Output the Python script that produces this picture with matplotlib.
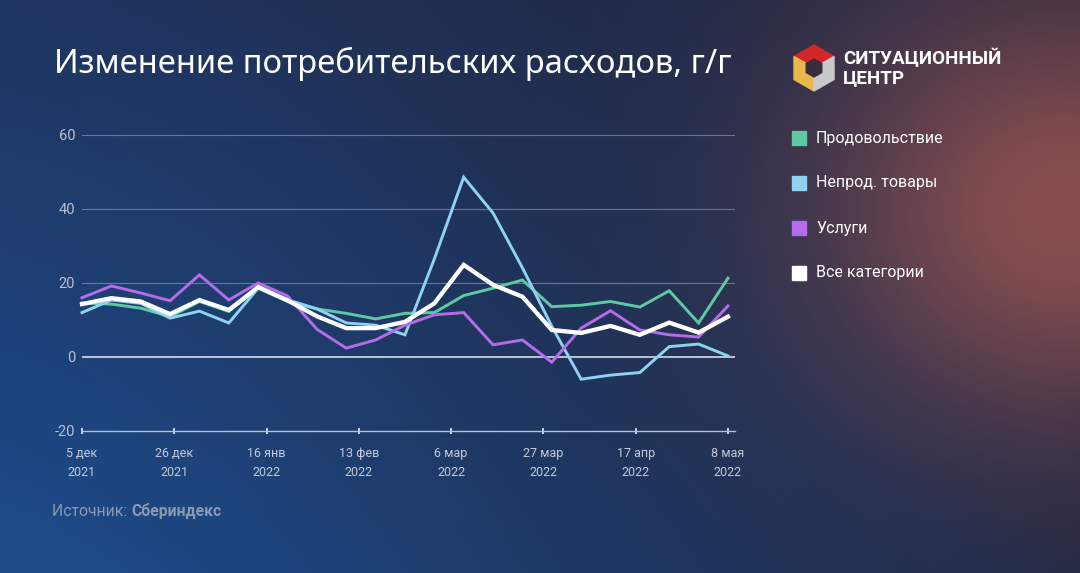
import numpy as np
import matplotlib
matplotlib.use("Agg")
import matplotlib.pyplot as plt
from matplotlib.patches import Polygon, Rectangle

plt.rcParams['font.family'] = ['Roboto', 'DejaVu Sans']

# weekly data, 5 Dec 2021 .. 8 May 2022
tick_labels = ["5 дек\n2021", "26 дек\n2021", "16 янв\n2022", "13 фев\n2022",
               "6 мар\n2022", "27 мар\n2022", "17 апр\n2022", "8 мая\n2022"]
food = [14.6, 14.3, 13.2, 10.9, 15.0, 12.3, 18.6, 15.0, 13.0, 11.8, 10.3, 11.8,
        12.0, 16.6, 18.6, 20.8, 13.6, 14.0, 15.0, 13.5, 17.9, 9.2, 21.3]
nonfood = [12.0, 15.4, 14.5, 10.5, 12.4, 9.2, 18.6, 15.5, 13.0, 9.2, 8.6, 6.0,
           26.5, 48.6, 38.9, 24.1, 8.3, -6.0, -4.9, -4.2, 2.8, 3.5, 0.3]
services = [16.0, 19.2, 17.3, 15.2, 22.2, 15.4, 20.0, 16.5, 7.5, 2.4, 4.6, 8.6,
            11.4, 12.0, 3.3, 4.6, -1.4, 7.8, 12.5, 7.3, 6.0, 5.4, 13.8]
total = [14.3, 15.9, 15.0, 11.6, 15.4, 12.7, 18.9, 15.3, 11.0, 7.8, 7.8, 9.5,
         14.5, 24.9, 19.5, 16.3, 7.3, 6.5, 8.4, 6.0, 9.3, 6.6, 10.9]

series_names = ["Продовольствие", "Непрод. товары", "Услуги", "Все категории"]
colors = ["#5fc9a5", "#8fd2f2", "#b56ceb", "#ffffff"]

W, H = 1080, 573
fig = plt.figure(figsize=(W / 100, H / 100), dpi=100)

# background gradient with a reddish glow on the right
yy, xx = np.mgrid[0:H, 0:W].astype(float)
u, v = xx / W, yy / H
left_top, left_bot = np.array([31, 53, 96]), np.array([29, 76, 140])
right_top, right_bot = np.array([40, 40, 62]), np.array([35, 42, 69])
L = left_top + (left_bot - left_top) * v[..., None]
R = right_top + (right_bot - right_top) * v[..., None]
t = (u ** 1.2)[..., None]
base = L * (1 - t) + R * t
base *= (1 - 0.06 * np.exp(-((u - 0.55) ** 2) / 0.06))[..., None]
glow = 0.92 * np.exp(-((xx - 1065) ** 2 / (2 * 170 ** 2) + (yy - 210) ** 2 / (2 * 150 ** 2)))
bg = base * (1 - glow[..., None]) + np.array([145, 82, 80]) * glow[..., None]

bgax = fig.add_axes([0, 0, 1, 1])
bgax.imshow(bg.astype(np.uint8), aspect="auto", extent=[0, W, H, 0])
bgax.set_xlim(0, W)
bgax.set_ylim(H, 0)
bgax.axis("off")

# main chart
x = np.arange(len(total))
ax = fig.add_axes([82 / W, 1 - 431 / H, (735 - 82) / W, (431 - 135) / H])
ax.patch.set_alpha(0)
ax.set_xlim(0, 22.24)
ax.set_ylim(-20, 60)

for yv in [20, 40, 60]:
    ax.axhline(yv, color="#7f88a6", lw=0.8, alpha=0.8, zorder=1)
ax.axhline(0, color="#e6ecf5", lw=1.1, zorder=1)

for vals, c, lw in zip([food, nonfood, services, total], colors, [2.1, 2.1, 2.1, 3.1]):
    ax.plot(x, vals, color=c, lw=lw, solid_joinstyle="miter", zorder=3, clip_on=False)

for s in ["top", "right", "left"]:
    ax.spines[s].set_visible(False)
ax.spines["bottom"].set_color("#b8c0d4")
ax.spines["bottom"].set_linewidth(1)

ax.set_yticks([-20, 0, 20, 40, 60])
ax.set_yticklabels(["-20", "0", "20", "40", "60"])
ax.set_xticks(np.linspace(0, 22, 8))
ax.set_xticklabels(tick_labels, linespacing=1.6)
ax.tick_params(axis="y", length=0, pad=5, labelsize=10.5, labelcolor="#b8c0d4")
ax.tick_params(axis="x", direction="inout", length=5, width=1.2, color="#e6ecf5",
               pad=9, labelsize=9, labelcolor="#c4cadb")

# title and source
fig.text(54 / W, 1 - 64 / H, "Изменение потребительских расходов, г/г",
         fontsize=23.6, color="white", va="center", ha="left", family=["Noto Sans", "DejaVu Sans"])
t1 = fig.text(52 / W, 1 - 511 / H, "Источник: ", fontsize=11.3, color="#8d98b4",
              va="center", ha="left")
fig.canvas.draw()
bb = t1.get_window_extent()
fig.text(bb.x1 / W, 1 - 511 / H, "Сбериндекс", fontsize=11.3, color="#8d98b4",
         fontweight="bold", va="center", ha="left")

# legend
for i, (name, c) in enumerate(zip(series_names, colors)):
    yc = 138 + 45 * i
    bgax.add_patch(Rectangle((792, yc - 7), 14, 14, color=c))
    bgax.text(816, yc, name, fontsize=11.5, color="white", va="center", ha="left")

# logo: isometric cube
cx, cy, r = 814, 68, 23
pts = {
    "t": (cx, cy - r), "ur": (cx + r * 0.87, cy - r / 2), "lr": (cx + r * 0.87, cy + r / 2),
    "b": (cx, cy + r), "ll": (cx - r * 0.87, cy + r / 2), "ul": (cx - r * 0.87, cy - r / 2),
    "c": (cx, cy),
}
bgax.add_patch(Polygon([pts["ul"], pts["t"], pts["ur"], pts["c"]], color="#d3262a"))
bgax.add_patch(Polygon([pts["ul"], pts["c"], pts["b"], pts["ll"]], color="#e8b84a"))
bgax.add_patch(Polygon([pts["c"], pts["ur"], pts["lr"], pts["b"]], color="#c9c9cc"))
ri = 9
inner = [(cx + ri * np.cos(a), cy + ri * np.sin(a)) for a in np.radians(np.arange(30, 390, 60))]
bgax.add_patch(Polygon(inner, color="#3a2c3c"))
bgax.text(843, 59, "СИТУАЦИОННЫЙ", fontsize=13.5, fontweight="bold", color="white",
          va="center", ha="left")
bgax.text(843, 78, "ЦЕНТР", fontsize=13.5, fontweight="bold", color="white",
          va="center", ha="left")

fig.savefig("out.png", dpi=100)
